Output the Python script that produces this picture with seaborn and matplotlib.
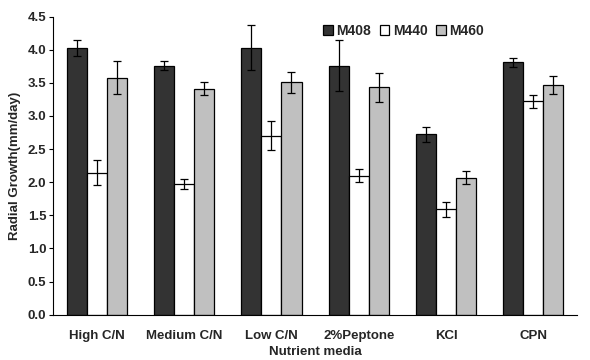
import numpy as np
import pandas as pd
import matplotlib
matplotlib.use("Agg")
import matplotlib.pyplot as plt
import seaborn as sns
from matplotlib.ticker import FixedLocator, MultipleLocator

# data
media = ["High C/N", "Medium C/N", "Low C/N", "2%Peptone", "KCl", "CPN"]
strains = ["M408", "M440", "M460"]
m408 = [4.03, 3.76, 4.03, 3.76, 2.72, 3.81]
m440 = [2.14, 1.97, 2.70, 2.10, 1.59, 3.22]
m460 = [3.58, 3.41, 3.51, 3.43, 2.07, 3.47]
m408_err = [0.12, 0.07, 0.34, 0.38, 0.12, 0.07]
m440_err = [0.19, 0.08, 0.22, 0.10, 0.11, 0.10]
m460_err = [0.25, 0.10, 0.16, 0.22, 0.10, 0.14]

values = [m408, m440, m460]
errors = [m408_err, m440_err, m460_err]

df = pd.DataFrame({
    "media": media * 3,
    "strain": np.repeat(strains, len(media)),
    "growth": m408 + m440 + m460,
})

sns.set_style("white")
plt.rcParams['font.family'] = ['Liberation Sans', 'DejaVu Sans']
plt.rcParams['font.weight'] = 'bold'
fs = 9.5

fig = plt.figure(figsize=(5.9, 3.6), dpi=100)
ax = fig.add_axes([0.09, 0.126, 0.888, 0.828])

colors = ["#333333", "#ffffff", "#c0c0c0"]
sns.barplot(data=df, x="media", y="growth", hue="strain", order=media,
            hue_order=strains, palette=colors, edgecolor="black",
            linewidth=0.9, width=0.69, errorbar=None, saturation=1, ax=ax)

# error bars on every bar
for cont, err in zip(ax.containers, errors):
    xs = [p.get_x() + p.get_width() / 2 for p in cont]
    hs = [p.get_height() for p in cont]
    ax.errorbar(xs, hs, yerr=err, fmt="none", ecolor="black",
                elinewidth=0.9, capsize=3, capthick=0.9)

ax.set_ylim(0, 4.5)
ax.set_xlim(-0.5, 5.5)
ax.yaxis.set_major_locator(MultipleLocator(0.5))
ax.set_yticklabels([f"{v:.1f}" for v in ax.get_yticks()], fontsize=fs, fontweight="bold")
ax.set_xticks(range(len(media)))
ax.set_xticklabels(media, fontsize=fs, fontweight="bold")
ax.xaxis.set_minor_locator(FixedLocator(np.arange(0.5, 5.5, 1)))
ax.tick_params(axis="x", which="major", length=0, pad=11)
ax.tick_params(axis="x", which="minor", length=3, width=0.8, direction="out", color="black")
ax.tick_params(axis="y", length=3, width=0.8, direction="out", color="black", left=True, pad=2)

for s in ["top", "right"]:
    ax.spines[s].set_visible(False)
for s in ["left", "bottom"]:
    ax.spines[s].set_color("black")
    ax.spines[s].set_linewidth(0.8)

ax.set_xlabel("Nutrient media", fontsize=fs, fontweight="bold", labelpad=3)
ax.set_ylabel("Radial Growth(mm/day)", fontsize=fs, fontweight="bold", labelpad=5)

leg = ax.legend(loc="upper left", bbox_to_anchor=(0.505, 0.995), ncol=3, frameon=False,
                fontsize=fs + 0.5, handlelength=0.7, handleheight=0.7, handletextpad=0.25,
                columnspacing=0.6, borderaxespad=0)
for t in leg.get_texts():
    t.set_fontweight("bold")

fig.savefig("out.png", dpi=100)
